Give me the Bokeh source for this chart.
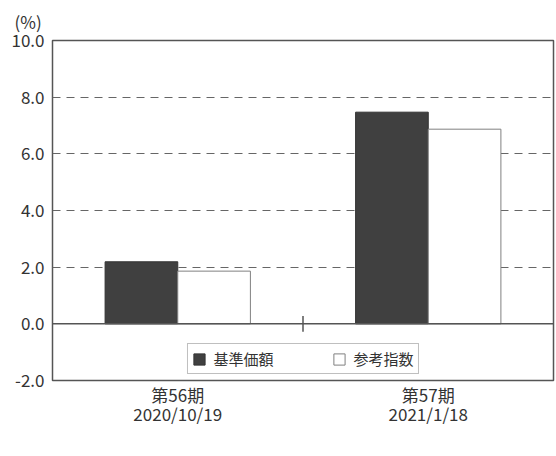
import numpy as np
from bokeh.plotting import figure
from bokeh.models import (Range1d, FixedTicker, NumeralTickFormatter, Span,
                          Legend, LegendItem, ColumnDataSource)
from bokeh.embed import file_html
from bokeh.resources import INLINE

# ---- data ----
categories = ["第56期\n2020/10/19", "第57期\n2021/1/18"]
nav_values = [2.19, 7.47]        # 基準価額
ref_values = [1.86, 6.87]        # 参考指数
series_names = ["基準価額", "参考指数"]
y_ticks = [-2, 0, 2, 4, 6, 8, 10]
grid_ticks = [2, 4, 6, 8]
unit_label = "(%)"

FONT = "Noto Sans CJK JP"
bar_w = 0.29
centers = np.arange(len(categories)) + 0.5

p = figure(frame_width=501, frame_height=340,
           x_range=Range1d(0, len(categories)), y_range=Range1d(-2, 10),
           output_backend="svg", toolbar_location=None,
           min_border_left=52, min_border_right=2, min_border_top=40, min_border_bottom=0)

p.background_fill_color = "white"
p.border_fill_color = "white"
p.outline_line_color = "#555555"
p.outline_line_width = 1.5

# unit label as title
p.title.text = unit_label
p.title.align = "left"
p.title.offset = -38
p.title.standoff = 13
p.title.text_font = FONT
p.title.text_font_size = "17px"
p.title.text_font_style = "normal"
p.title.text_color = "#333333"

src1 = ColumnDataSource(dict(x=centers - bar_w / 2, top=nav_values))
src2 = ColumnDataSource(dict(x=centers + bar_w / 2, top=ref_values))
r1 = p.vbar(x="x", top="top", bottom=0, width=bar_w, source=src1,
            fill_color="#404040", line_color="#333333", line_width=1)
r2 = p.vbar(x="x", top="top", bottom=0, width=bar_w, source=src2,
            fill_color="white", line_color="#808080", line_width=1)

# grid
p.xgrid.visible = False
p.ygrid.ticker = FixedTicker(ticks=grid_ticks)
p.ygrid.grid_line_color = "#666666"
p.ygrid.grid_line_dash = "8 6"
p.ygrid.grid_line_width = 1.2

# zero line & separator tick
p.add_layout(Span(location=0, dimension="width", line_color="#555555", line_width=1.5))
p.segment(x0=[1], x1=[1], y0=[-0.28], y1=[0.28], line_color="#555555", line_width=1.5)

# y axis
ya = p.yaxis[0]
ya.ticker = FixedTicker(ticks=y_ticks)
ya.formatter = NumeralTickFormatter(format="0.0")
ya.axis_line_color = None
ya.major_tick_line_color = None
ya.minor_tick_line_color = None
ya.major_tick_out = 0
ya.minor_tick_out = 0
ya.major_label_standoff = 8
ya.major_label_text_font = FONT
ya.major_label_text_font_size = "17px"
ya.major_label_text_color = "#333333"

# x axis
xa = p.xaxis[0]
xa.ticker = FixedTicker(ticks=list(centers))
xa.major_label_overrides = {float(c): lab for c, lab in zip(centers, categories)}
xa.axis_line_color = None
xa.major_tick_line_color = None
xa.minor_tick_line_color = None
xa.major_tick_out = 0
xa.major_tick_in = 0
xa.minor_tick_out = 0
xa.axis_label = None
xa.axis_label_standoff = 0
xa.major_label_standoff = 1
xa.major_label_text_font = FONT
xa.major_label_text_font_size = "17px"
xa.major_label_text_color = "#333333"
xa.major_label_text_line_height = 0.78

# legend placed inside the frame (bottom, centered) so it is fully visible
legend = Legend(items=[LegendItem(label=series_names[0], renderers=[r1]),
                       LegendItem(label=series_names[1], renderers=[r2])],
                orientation="horizontal", location="bottom_center",
                label_text_font=FONT, label_text_font_size="15px", label_text_color="#333333",
                glyph_width=14, glyph_height=14, label_standoff=8, spacing=58,
                padding=4, margin=6, border_line_color="#808080", border_line_width=1.5,
                label_height=14, background_fill_color="white")
p.add_layout(legend)

open("out.html", "w").write(file_html(p, INLINE))
